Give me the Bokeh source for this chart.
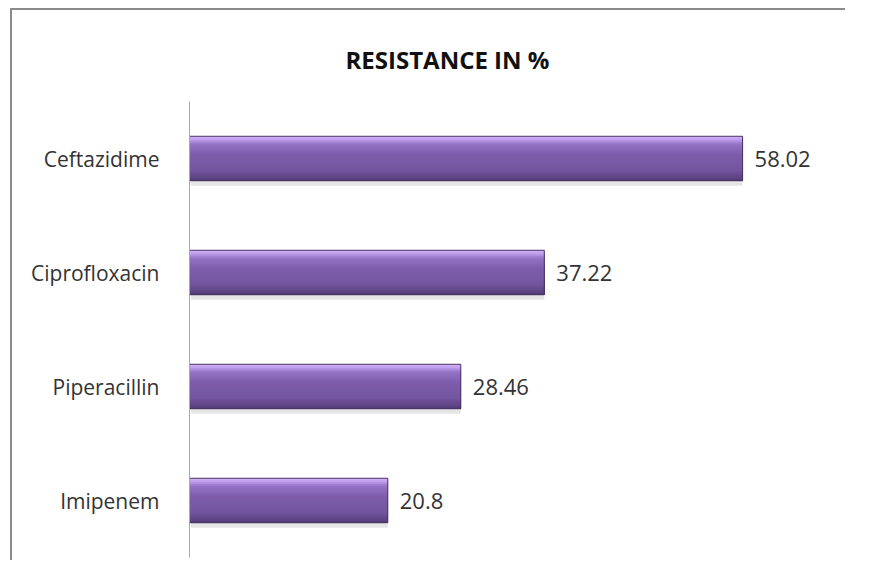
from bokeh.plotting import figure
from bokeh.models import FactorRange, Range1d, ColumnDataSource
from bokeh.transform import dodge
from bokeh.embed import file_html
from bokeh.resources import INLINE
from bokeh.core.properties import value

drugs = ["Ceftazidime", "Ciprofloxacin", "Piperacillin", "Imipenem"]
resistance = [58.02, 37.22, 28.46, 20.8]
value_labels = ["58.02", "37.22", "28.46", "20.8"]
title_text = "RESISTANCE IN %"

src = ColumnDataSource(dict(drug=drugs, val=resistance, lab=value_labels))

p = figure(width=835, height=552,
           y_range=FactorRange(factors=drugs[::-1]),
           x_range=Range1d(0, 68.5),
           output_backend="svg", toolbar_location=None,
           min_border_left=177, min_border_right=5,
           min_border_top=91, min_border_bottom=5)

p.title.text = title_text
p.title.align = "left"
p.title.offset = 156
p.title.standoff = 52
p.title.text_font = "Open Sans"
p.title.text_font_style = "bold"
p.title.text_font_size = "24px"
p.title.text_color = "#111111"

H = 0.39
# shadow
p.hbar(y=dodge("drug", -0.045, range=p.y_range), left=0.15, right="val", height=H,
       fill_color="#000000", fill_alpha=0.10, line_color=None, source=src)

# gradient (stacked overlapping layers, top colour first)
stops = [(0.0, (0xd2, 0xb2, 0xf8)), (0.08, (0xc0, 0x9e, 0xec)), (0.18, (0x94, 0x72, 0xc4)),
         (0.4, (0x7e, 0x5e, 0xab)), (0.75, (0x74, 0x56, 0xa0)), (0.95, (0x5c, 0x42, 0x81)),
         (1.0, (0x4e, 0x38, 0x70))]

def interp(t):
    for (t0, c0), (t1, c1) in zip(stops[:-1], stops[1:]):
        if t0 <= t <= t1:
            f = (t - t0) / (t1 - t0) if t1 > t0 else 0
            return "#%02x%02x%02x" % tuple(int(round(a + (b - a) * f)) for a, b in zip(c0, c1))
    return "#%02x%02x%02x" % stops[-1][1]

N = 22
for i in range(N):
    t = (i + 0.5) / N
    h = H * (1 - i / N)
    off = -H / 2 + h / 2
    p.hbar(y=dodge("drug", off, range=p.y_range), left=0, right="val", height=h,
           fill_color=interp(t), line_color=None, source=src)

p.hbar(y="drug", left=0, right="val", height=H, fill_color=None,
       line_color="#47325f", line_width=1, source=src)

p.text(x="val", y="drug", text="lab", source=src, x_offset=12,
       text_baseline="middle", text_align="left",
       text_font=value("Open Sans"), text_font_size="22px", text_color="#333333")

p.xaxis.visible = False
p.yaxis.axis_line_color = "#a8a8a8"
p.yaxis.major_tick_line_color = None
p.yaxis.minor_tick_line_color = None
p.yaxis.major_label_text_font = "Open Sans"
p.yaxis.major_label_text_font_size = "21px"
p.yaxis.major_label_text_color = "#333333"
p.yaxis.major_label_standoff = 24
p.xgrid.visible = False
p.ygrid.visible = False
p.outline_line_color = None
p.styles = {"border-left": "2px solid #8a8a8a", "border-top": "2px solid #8a8a8a",
            "margin-left": "10px", "margin-top": "8px"}

open("out.html", "w").write(file_html(p, INLINE))
